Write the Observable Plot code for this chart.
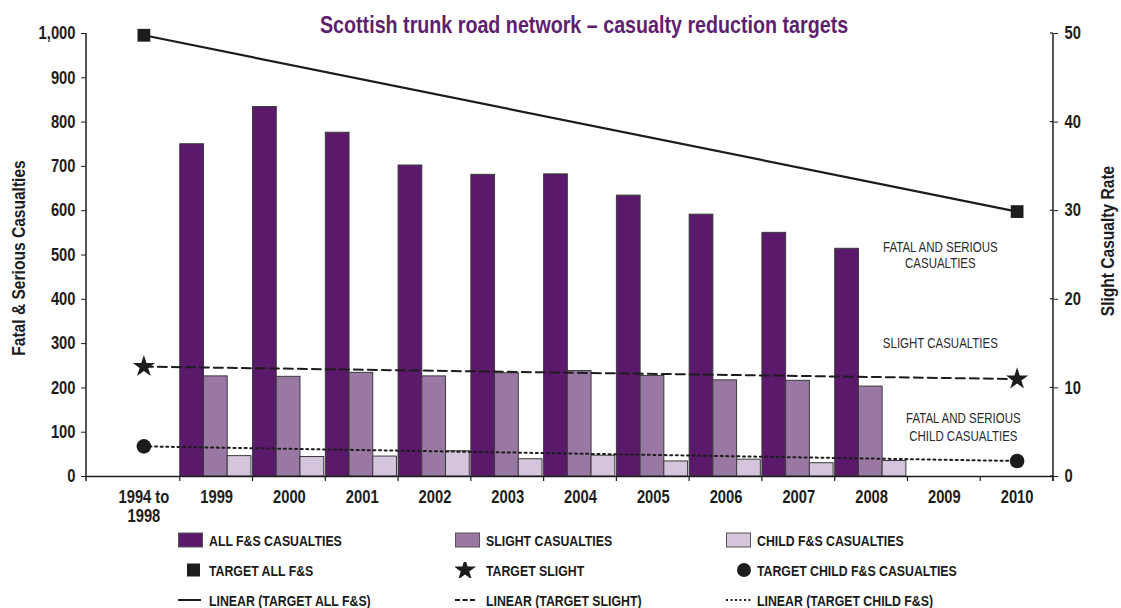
<!DOCTYPE html>
<html><head><meta charset="utf-8">
<script src="https://cdn.jsdelivr.net/npm/d3@7"></script>
<script src="https://cdn.jsdelivr.net/npm/@observablehq/plot@0.6"></script>
<style>
body{margin:0;background:#fff;font-family:"Liberation Sans",Arial,sans-serif;}
#wrap{position:relative;width:1121px;height:608px;overflow:hidden;}
#title{position:absolute;left:0;top:11px;width:1168px;text-align:center;font-weight:bold;font-size:24px;line-height:28px;color:#5e1f6f;}
#title span{display:inline-block;transform:scaleX(0.82);transform-origin:center;}
#legend{position:absolute;left:0;top:525px;width:1121px;}
.row{position:relative;height:30px;}
.item{position:absolute;top:0;height:30px;display:flex;align-items:center;font-weight:bold;font-size:15px;color:#1a1a1a;white-space:nowrap;}
.item svg{margin-right:6px;flex:none;}
.item span{display:inline-block;transform:scaleX(0.82);transform-origin:left center;}
</style></head>
<body><div id="wrap"><div id="chart"></div><div id="title"><span></span></div><div id="legend"></div></div>
<script>
const titleText = "Scottish trunk road network – casualty reduction targets";
const categories = ["1994 to 1998","1999","2000","2001","2002","2003","2004","2005","2006","2007","2008","2009","2010"];
const years = ["1999","2000","2001","2002","2003","2004","2005","2006","2007","2008"];
const allFS = [750,834,776,702,681,682,634,591,550,514];
const slightRate = [11.3,11.25,11.7,11.3,11.65,11.9,11.35,10.85,10.8,10.15];
const childFS = [46,44,45,57,39,47,34,38,30,35];
const targetCats = ["1994 to 1998","2010"];
const targetAllFS = [996,598];
const targetSlightRate = [12.4,11.0];
const targetChildFS = [68,35];
const leftTicks = [0,100,200,300,400,500,600,700,800,900,1000];
const rightTicks = [0,10,20,30,40,50];
const rateToCount = 20; // right axis 50 corresponds to left axis 1000
const leftTitle = "Fatal & Serious Casualties";
const rightTitle = "Slight Casualty Rate";
const noteFS = "FATAL AND SERIOUS\nCASUALTIES";
const noteSlight = "SLIGHT CASUALTIES";
const noteChild = "FATAL AND SERIOUS\nCHILD CASUALTIES";
const legendRows = [
  [["ALL F&S CASUALTIES","barAll"],["SLIGHT CASUALTIES","barSlight"],["CHILD F&S CASUALTIES","barChild"]],
  [["TARGET ALL F&S","square"],["TARGET SLIGHT","star"],["TARGET CHILD F&S CASUALTIES","circle"]],
  [["LINEAR (TARGET ALL F&S)","solid"],["LINEAR (TARGET SLIGHT)","dashed"],["LINEAR (TARGET CHILD F&S)","dotted"]]
];

const C = {all:"#5b196b", slight:"#9a78a4", child:"#d4c5dd", edge:"#3a3a3a", ink:"#1c1c1c"};
const NARROW = 0.82;

const W=1121, H=522, mL=86, mR=68, mT=33, mB=46, inL=21;
const bw = (W - mL - mR - inL) / categories.length;
const barW = bw * 0.326;

const allData = years.map((y,i)=>({cat:y, v:allFS[i]}));
const slightData = years.map((y,i)=>({cat:y, v:slightRate[i]*rateToCount}));
const childData = years.map((y,i)=>({cat:y, v:childFS[i]}));
const tAll = targetCats.map((c,i)=>({cat:c, v:targetAllFS[i]}));
const tSlight = targetCats.map((c,i)=>({cat:c, v:targetSlightRate[i]*rateToCount}));
const tChild = targetCats.map((c,i)=>({cat:c, v:targetChildFS[i]}));

document.querySelector("#title span").textContent = titleText;

const chart = Plot.plot({
  width:W, height:H, marginLeft:mL, marginRight:mR, marginTop:mT, marginBottom:mB,
  style:{fontFamily:'"Liberation Sans",Arial,sans-serif', fontSize:"18px", color:C.ink, background:"transparent", overflow:"visible"},
  x:{type:"band", domain:categories, padding:0, insetLeft:inL, round:false, label:null},
  y:{domain:[0,1000], label:null},
  marks:[
    Plot.barY(allData,{x:"cat", y:"v", fill:C.all, stroke:C.edge, strokeWidth:1, insetLeft:0, insetRight:bw-barW}),
    Plot.barY(slightData,{x:"cat", y:"v", fill:C.slight, stroke:C.edge, strokeWidth:1, insetLeft:barW, insetRight:bw-2*barW}),
    Plot.barY(childData,{x:"cat", y:"v", fill:C.child, stroke:C.edge, strokeWidth:1, insetLeft:2*barW, insetRight:bw-3*barW}),
    Plot.ruleY([0],{stroke:C.ink, strokeWidth:1.5}),
    Plot.line(tAll,{x:"cat", y:"v", stroke:C.ink, strokeWidth:2.2}),
    Plot.line(tSlight,{x:"cat", y:"v", stroke:C.ink, strokeWidth:2, strokeDasharray:"9,5"}),
    Plot.line(tChild,{x:"cat", y:"v", stroke:C.ink, strokeWidth:2, strokeDasharray:"2,3.6"}),
    Plot.dot(tAll,{x:"cat", y:"v", symbol:"square", r:7.2, fill:C.ink, stroke:"none"}),
    Plot.dot(tSlight,{x:"cat", y:"v", symbol:"star", r:7, fill:C.ink, stroke:"none"}),
    Plot.dot(tChild,{x:"cat", y:"v", symbol:"circle", r:7.3, fill:C.ink, stroke:"none"}),
    Plot.axisX({tickSize:0, tickPadding:13, fontWeight:"bold", label:null, lineHeight:1.05,
      tickFormat:d=>d.replace(" to ", " to\n")}),
    Plot.axisY({anchor:"left", ticks:leftTicks, tickFormat:d3.format(","), tickSize:5, tickPadding:6, fontWeight:"bold", label:null, stroke:C.ink}),
    Plot.axisY({anchor:"right", ticks:rightTicks.map(r=>r*rateToCount), tickFormat:d=>d/rateToCount, tickSize:4, tickPadding:7, fontWeight:"bold", label:null, stroke:C.ink}),
    Plot.text([leftTitle],{frameAnchor:"left", textAnchor:"middle", rotate:-90, dx:-68, dy:3, fontWeight:"bold", fontSize:19}),
    Plot.text([rightTitle],{frameAnchor:"right", textAnchor:"middle", rotate:-90, dx:54, dy:-14, fontWeight:"bold", fontSize:19}),
    Plot.text([{cat:"2009", v:500, t:noteFS}],{x:"cat", y:"v", text:"t", dx:-4, fontSize:14, lineHeight:1.1, fill:"#2a2a2a"}),
    Plot.text([{cat:"2009", v:300, t:noteSlight}],{x:"cat", y:"v", text:"t", dx:-4, fontSize:14, fill:"#2a2a2a"}),
    Plot.text([{cat:"2009", v:113, t:noteChild}],{x:"cat", y:"v", text:"t", dx:19, fontSize:14, lineHeight:1.25, fill:"#2a2a2a"})
  ]
});
document.getElementById("chart").appendChild(chart);

// condensed look: squeeze every text horizontally about its own anchor
d3.select(chart).selectAll("text").each(function(){
  const t = this.getAttribute("transform");
  if (t) this.setAttribute("transform", t + ` scale(${NARROW},1)`);
});

// axis lines and category boundary ticks
const xs = chart.scale("x"), ys = chart.scale("y");
const svg = d3.select(chart);
const g = svg.append("g").attr("stroke", C.ink).attr("stroke-width", 1.5);
const y0 = ys.apply(0), yTop = ys.apply(1000);
g.append("line").attr("x1", mL).attr("x2", mL).attr("y1", yTop).attr("y2", y0 + 5);
g.append("line").attr("x1", W - mR).attr("x2", W - mR).attr("y1", yTop).attr("y2", y0 + 5);
categories.forEach((c,i)=>{
  const xb = xs.range[0] + xs.bandwidth*(i+1);
  g.append("line").attr("x1", xb).attr("x2", xb).attr("y1", y0).attr("y2", y0 + 5).attr("stroke-width", 1.2);
});
rightTicks.forEach(r=>{
  const yy = ys.apply(r*rateToCount);
  g.append("line").attr("x1", W - mR - 3).attr("x2", W - mR).attr("y1", yy).attr("y2", yy).attr("stroke-width", 1.2);
});

// legend
const leg = d3.select("#legend");
const colLeft = [178, 455, 726];
function swatch(kind){
  const s = d3.create("svg").attr("width", 25).attr("height", 16);
  const sym = (type, cx, size) => s.append("path").attr("transform", `translate(${cx},8)`).attr("d", d3.symbol(type, size)()).attr("fill", C.ink);
  if (kind.startsWith("bar")) {
    const f = kind==="barAll"?C.all:kind==="barSlight"?C.slight:C.child;
    s.append("rect").attr("x",0.5).attr("y",1).attr("width",24).attr("height",14).attr("fill",f).attr("stroke","#555");
  } else if (kind==="square") {
    s.append("rect").attr("x",9).attr("y",1.5).attr("width",13).attr("height",13).attr("fill",C.ink);
  } else if (kind==="star") {
    sym(d3.symbolStar, 10, Math.PI*7*7);
  } else if (kind==="circle") {
    sym(d3.symbolCircle, 18, Math.PI*7*7);
  } else {
    const l = s.append("line").attr("y1",8).attr("y2",8).attr("stroke",C.ink).attr("stroke-width",2);
    if (kind==="solid") l.attr("x1",0).attr("x2",23);
    if (kind==="dashed") l.attr("x1",0).attr("x2",20).attr("stroke-dasharray","5,2.5");
    if (kind==="dotted") l.attr("x1",0).attr("x2",26).attr("stroke-dasharray","2,2.5");
  }
  return s.node();
}
legendRows.forEach(row=>{
  const r = leg.append("div").attr("class","row");
  row.forEach(([label, kind], j)=>{
    const it = r.append("div").attr("class","item").style("left", colLeft[j] + "px");
    it.node().appendChild(swatch(kind));
    it.append("span").text(label);
  });
});
</script>
</body></html>
